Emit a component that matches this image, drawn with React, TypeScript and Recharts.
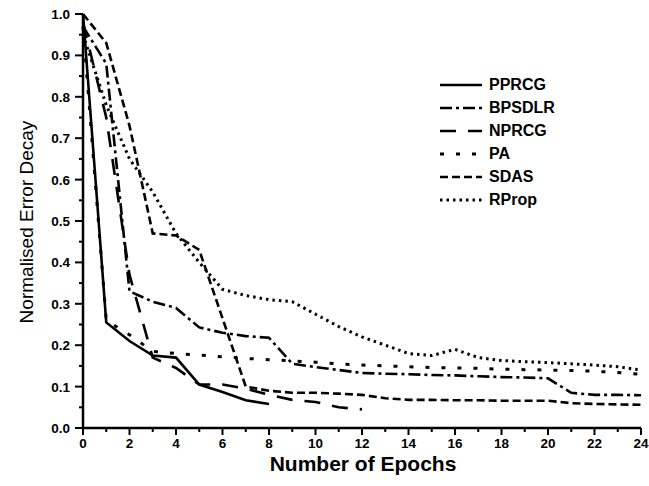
import React from 'react';
import { LineChart, Line, XAxis, YAxis, Legend } from 'recharts';

// epochs on the x axis, one value per epoch for each training method
const epochs = [0, 1, 2, 3, 4, 5, 6, 7, 8, 9, 10, 11, 12, 13, 14, 15, 16, 17, 18, 19, 20, 21, 22, 23, 24];
const pprcg = [1.0, 0.255, 0.21, 0.175, 0.17, 0.105, 0.087, 0.067, 0.058];
const bpsdlr = [0.97, 0.88, 0.33, 0.305, 0.29, 0.243, 0.23, 0.222, 0.218, 0.155, 0.147, 0.14, 0.133, 0.131, 0.13, 0.128, 0.127, 0.125, 0.123, 0.122, 0.12, 0.085, 0.08, 0.08, 0.079];
const nprcg = [0.98, 0.75, 0.37, 0.17, 0.145, 0.105, 0.105, 0.095, 0.08, 0.068, 0.063, 0.05, 0.045];
const pa = [0.97, 0.26, 0.225, 0.185, 0.18, 0.176, 0.172, 0.168, 0.165, 0.162, 0.159, 0.155, 0.152, 0.15, 0.148, 0.146, 0.145, 0.144, 0.142, 0.141, 0.14, 0.139, 0.137, 0.134, 0.13];
const sdas = [1.0, 0.93, 0.73, 0.47, 0.465, 0.43, 0.265, 0.1, 0.09, 0.085, 0.085, 0.083, 0.08, 0.072, 0.068, 0.068, 0.067, 0.067, 0.066, 0.066, 0.066, 0.06, 0.058, 0.057, 0.056];
const rprop = [0.95, 0.78, 0.65, 0.57, 0.47, 0.4, 0.335, 0.32, 0.31, 0.305, 0.275, 0.245, 0.22, 0.2, 0.18, 0.175, 0.19, 0.17, 0.163, 0.16, 0.158, 0.155, 0.152, 0.148, 0.14];

const yTicks = [0, 0.05, 0.1, 0.15, 0.2, 0.25, 0.3, 0.35, 0.4, 0.45, 0.5, 0.55, 0.6, 0.65, 0.7, 0.75, 0.8, 0.85, 0.9, 0.95, 1.0];

const data = epochs.map((e, i) => ({
  epoch: e,
  PPRCG: pprcg[i],
  BPSDLR: bpsdlr[i],
  NPRCG: nprcg[i],
  PA: pa[i],
  SDAS: sdas[i],
  RProp: rprop[i],
}));

const series = [
  { key: 'PPRCG', dash: undefined, width: 2.6 },
  { key: 'BPSDLR', dash: '12 4 3 4', width: 2.6 },
  { key: 'NPRCG', dash: '16 12', width: 2.6 },
  { key: 'PA', dash: '4 12', width: 3 },
  { key: 'SDAS', dash: '8 4', width: 2.6 },
  { key: 'RProp', dash: '2.5 4', width: 3 },
];

const font = '"Liberation Sans", Arial, sans-serif';

const XTick = (props: any) => {
  const { x, y, payload } = props;
  const major = payload.value % 2 === 0;
  return (
    <g>
      <line x1={x} x2={x} y1={y} y2={y + (major ? 7 : 4)} stroke="#000" strokeWidth={2} />
      {major && (
        <text x={x} y={y + 20} textAnchor="middle" fontSize={13.5} fontWeight="bold" fontFamily={font} fill="#000">
          {payload.value}
        </text>
      )}
    </g>
  );
};

const YTick = (props: any) => {
  const { x, y, payload } = props;
  const major = Math.round(payload.value * 100) % 10 === 0;
  return (
    <g>
      <line x1={x} x2={x - (major ? 8 : 4)} y1={y} y2={y} stroke="#000" strokeWidth={2} />
      {major && (
        <text x={x - 13} y={y + 5} textAnchor="end" fontSize={13.5} fontWeight="bold" fontFamily={font} fill="#000">
          {payload.value.toFixed(1)}
        </text>
      )}
    </g>
  );
};

const renderLegend = () => (
  <div>
    {series.map((s) => (
      <div key={s.key} style={{ display: 'flex', alignItems: 'center', height: 23 }}>
        <svg width={46} height={10}>
          <line x1={0} x2={42} y1={5} y2={5} stroke="#000" strokeWidth={s.width} strokeDasharray={s.dash} />
        </svg>
        <span style={{ fontFamily: font, fontWeight: 'bold', fontSize: 16, marginLeft: 3 }}>{s.key}</span>
      </div>
    ))}
  </div>
);

export default function App() {
  return (
    <div style={{ position: 'absolute', left: 0, top: 0, width: 649, height: 486, background: '#fff' }}>
      <LineChart width={649} height={486} data={data} margin={{ top: 14, right: 8, left: 0, bottom: 0 }}>
        <XAxis
          dataKey="epoch"
          type="number"
          domain={[0, 24]}
          ticks={epochs}
          height={58}
          tickSize={0}
          tickMargin={0}
          tick={<XTick />}
          tickLine={false}
          axisLine={{ stroke: '#000', strokeWidth: 2.5 }}
          interval={0}
        />
        <YAxis
          type="number"
          domain={[0, 1]}
          ticks={yTicks}
          width={83}
          tickSize={0}
          tickMargin={0}
          tick={<YTick />}
          tickLine={false}
          axisLine={{ stroke: '#000', strokeWidth: 2.5 }}
          interval={0}
        />
        <Legend
          layout="vertical"
          align="center"
          verticalAlign="middle"
          content={renderLegend}
          wrapperStyle={{ left: 440, top: 73, width: 170 }}
        />
        {series.map((s) => (
          <Line
            key={s.key}
            type="linear"
            dataKey={s.key}
            stroke="#000"
            strokeWidth={s.width}
            strokeDasharray={s.dash}
            dot={false}
            activeDot={false}
            isAnimationActive={false}
          />
        ))}
      </LineChart>
      <div
        style={{
          position: 'absolute', left: 253, top: 452, width: 220, textAlign: 'center',
          fontFamily: font, fontWeight: 'bold', fontSize: 21, lineHeight: '24px',
        }}
      >
        Number of Epochs
      </div>
      <div
        style={{
          position: 'absolute', left: 27 - 150, top: 222 - 12, width: 300, height: 24, textAlign: 'center',
          fontFamily: font, fontSize: 19, lineHeight: '24px', transform: 'rotate(-90deg)',
        }}
      >
        Normalised Error Decay
      </div>
    </div>
  );
}
